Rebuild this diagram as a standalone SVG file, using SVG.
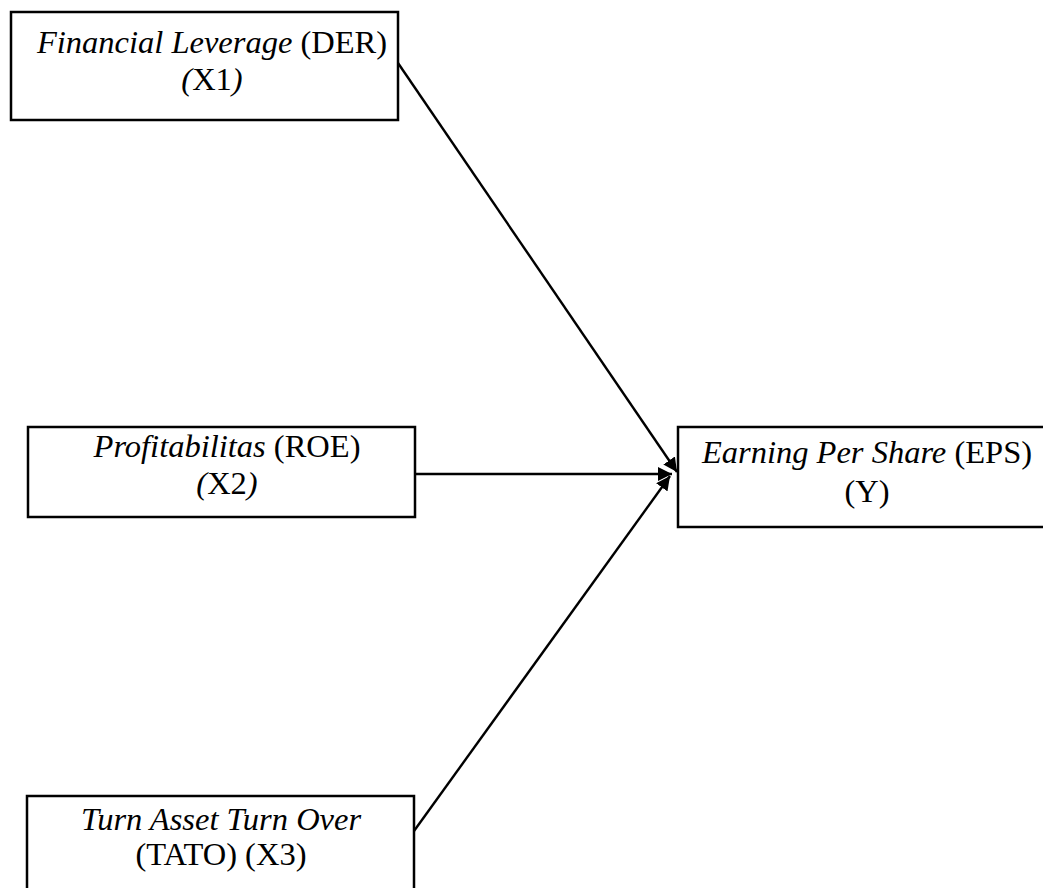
<svg xmlns="http://www.w3.org/2000/svg" width="1043" height="888" viewBox="0 0 1043 888">
<style>
.box{fill:#fff;stroke:#000;stroke-width:2.5}
.t{font-family:"Liberation Serif","Times New Roman",serif;font-size:32.5px;fill:#000;text-anchor:middle}
.i{font-style:italic}
.c{stroke:#000;stroke-width:2.4;fill:none;marker-end:url(#ah)}
</style>
<defs>
<marker id="ah" markerUnits="userSpaceOnUse" markerWidth="16" markerHeight="14" refX="14" refY="7" orient="auto">
<path d="M0,0 L14,7 L0,14 Z" fill="#000"/>
</marker>
</defs>
<rect width="1043" height="888" fill="#fff"/>
<g id="connectors">
<line class="c" x1="398" y1="63" x2="677" y2="472"/>
<line class="c" x1="415" y1="474" x2="672" y2="474"/>
<line class="c" x1="414" y1="831" x2="670" y2="476"/>
</g>
<g id="x1">
<rect class="box" x="11" y="12" width="387" height="108"/>
<text class="t" x="212" y="53"><tspan class="i">Financial Leverage</tspan> (DER)</text>
<text class="t" x="212" y="90"><tspan class="i">(</tspan>X1<tspan class="i">)</tspan></text>
</g>
<g id="x2">
<rect class="box" x="28" y="427" width="387" height="90"/>
<text class="t" x="227" y="457"><tspan class="i">Profitabilitas</tspan> (ROE)</text>
<text class="t" x="227" y="494"><tspan class="i">(</tspan>X2<tspan class="i">)</tspan></text>
</g>
<g id="y">
<rect class="box" x="678" y="427" width="368" height="100"/>
<text class="t" x="867" y="463"><tspan class="i">Earning Per Share</tspan> (EPS)</text>
<text class="t" x="867" y="502">(Y)</text>
</g>
<g id="x3">
<rect class="box" x="27" y="796" width="387" height="100"/>
<text class="t i" x="221" y="830">Turn Asset Turn Over</text>
<text class="t" x="221" y="865">(TATO) (X3)</text>
</g>
</svg>
